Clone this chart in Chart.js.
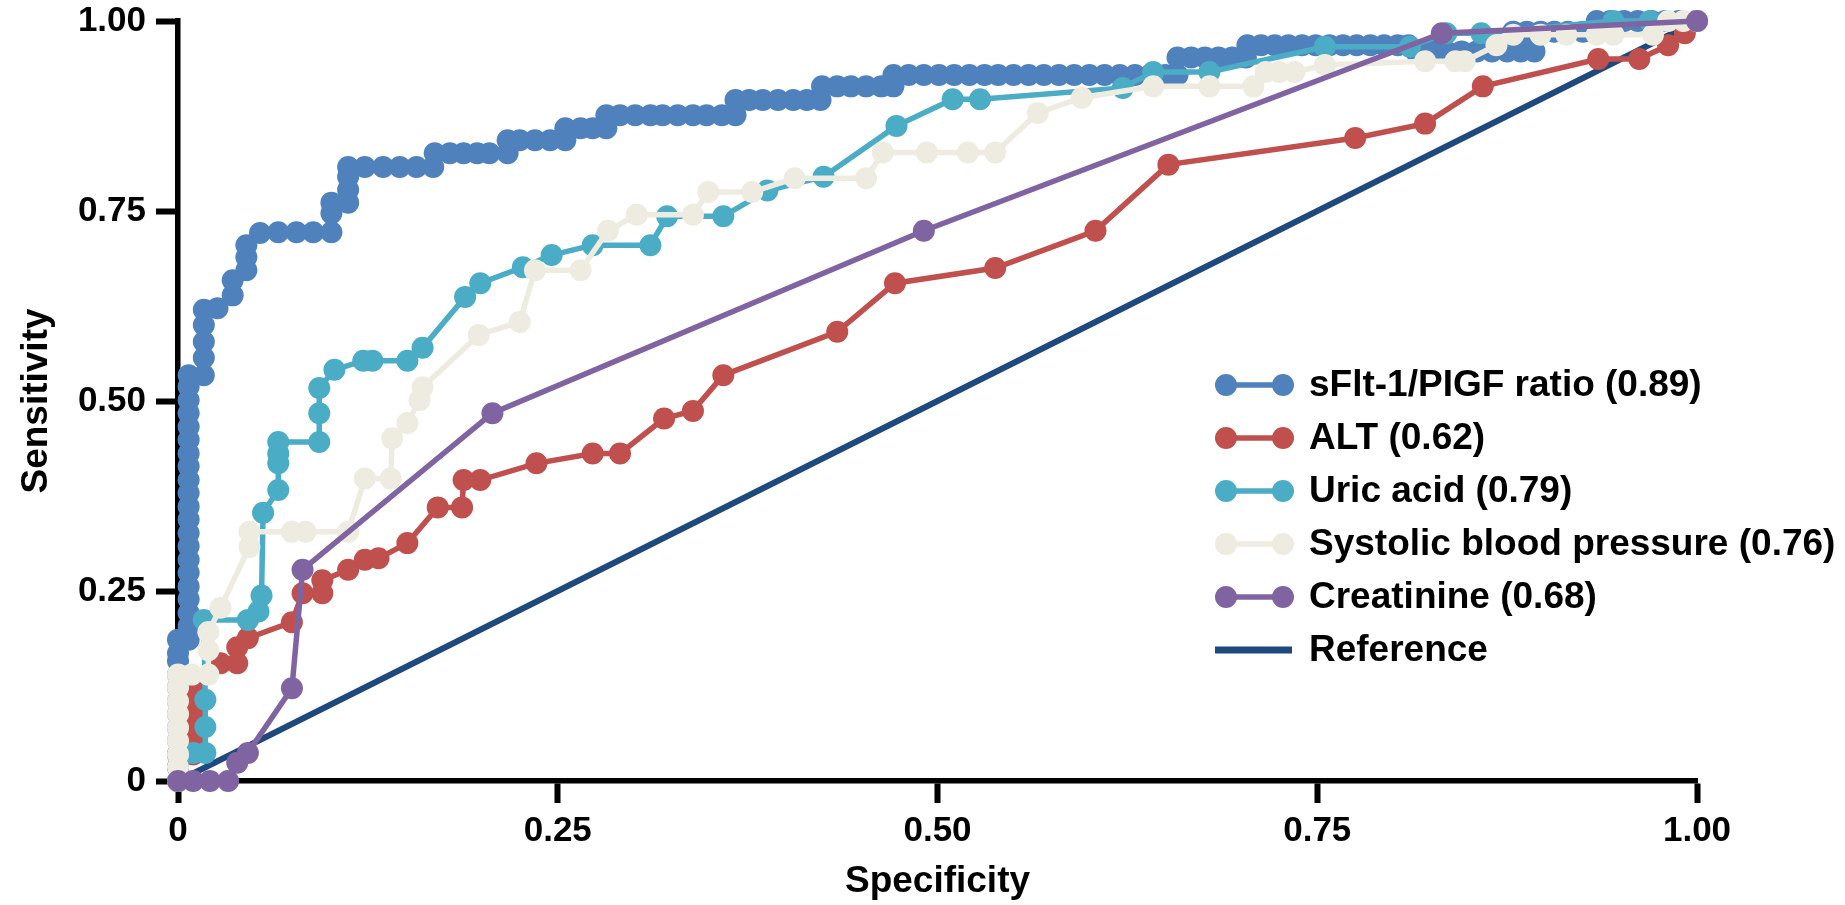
<!DOCTYPE html>
<html>
<head>
<meta charset="utf-8">
<script src="https://cdn.jsdelivr.net/npm/chart.js@4.4.1/dist/chart.umd.min.js"></script>
<style>
  html, body { margin: 0; padding: 0; background: #fff; }
  #wrap { position: relative; width: 1845px; height: 905px; }
</style>
</head>
<body>
<div id="wrap"><canvas id="roc"></canvas></div>
<script>
const FONT = "'Liberation Sans', Arial, Helvetica, sans-serif";

const tickValues = [0, 0.25, 0.5, 0.75, 1];
const tickLabels = ['0', '0.25', '0.50', '0.75', '1.00'];

const seriesNames = ['sFlt-1/PIGF ratio (0.89)', 'ALT (0.62)', 'Uric acid (0.79)', 'Systolic blood pressure (0.76)', 'Creatinine (0.68)', 'Reference'];
const seriesColors = ['#4F81BD', '#C0504D', '#4BACC6', '#EEECE1', '#8064A2', '#1F497D'];

// sFlt-1/PlGF ratio
const sfltSpec = [0, 0, 0, 0, 0, 0, 0, 0, 0, 0, 0, 0,
  0.007, 0.007, 0.007, 0.007, 0.007, 0.007, 0.007, 0.007, 0.007, 0.007, 0.007, 0.007, 0.007, 0.007, 0.007, 0.007, 0.007, 0.007, 0.007, 0.007, 0.007,
  0.017, 0.017, 0.017, 0.017, 0.017,
  0.026, 0.036, 0.036, 0.045, 0.045, 0.045, 0.054, 0.066, 0.078, 0.089, 0.101, 0.101, 0.101, 0.112, 0.112, 0.112, 0.112,
  0.123, 0.135, 0.146, 0.157, 0.168, 0.169, 0.179, 0.188, 0.197, 0.205, 0.217, 0.217, 0.225, 0.235, 0.245, 0.255,
  0.255, 0.265, 0.273, 0.282, 0.282, 0.291, 0.301, 0.311, 0.319, 0.329, 0.339, 0.348, 0.358, 0.367,
  0.367, 0.376, 0.385, 0.395, 0.405, 0.414, 0.423, 0.424, 0.434, 0.443, 0.453, 0.463, 0.471,
  0.471, 0.481, 0.491, 0.501, 0.511, 0.521, 0.531, 0.540, 0.550, 0.560, 0.570, 0.580, 0.590, 0.600, 0.610, 0.620, 0.630, 0.640, 0.650, 0.658,
  0.658, 0.667, 0.676, 0.685, 0.694, 0.703,
  0.704, 0.713, 0.722, 0.731, 0.740, 0.749, 0.758, 0.767, 0.776, 0.785, 0.794, 0.803, 0.810,
  0.815, 0.825, 0.835, 0.845, 0.855, 0.865, 0.875, 0.884, 0.893,
  0.879, 0.888, 0.897, 0.906, 0.915, 0.925, 0.934,
  0.934, 0.943, 0.952, 0.961, 0.970, 0.979, 0.988, 1];
const sfltSens = [0, 0.018, 0.035, 0.053, 0.070, 0.088, 0.105, 0.123, 0.140, 0.158, 0.168, 0.186,
  0.186, 0.204, 0.221, 0.239, 0.256, 0.274, 0.291, 0.309, 0.326, 0.344, 0.361, 0.379, 0.396, 0.414, 0.431, 0.449, 0.466, 0.484, 0.501, 0.519, 0.534,
  0.534, 0.557, 0.578, 0.600, 0.620,
  0.622, 0.639, 0.659, 0.672, 0.689, 0.705, 0.721, 0.722, 0.722, 0.722, 0.722, 0.747, 0.761, 0.761, 0.778, 0.795, 0.808,
  0.808, 0.808, 0.808, 0.808, 0.808, 0.826, 0.826, 0.826, 0.826, 0.826, 0.826, 0.843, 0.843, 0.843, 0.843, 0.843,
  0.859, 0.859, 0.859, 0.859, 0.876, 0.876, 0.876, 0.876, 0.876, 0.876, 0.876, 0.876, 0.876, 0.876,
  0.896, 0.896, 0.896, 0.896, 0.896, 0.896, 0.896, 0.914, 0.914, 0.914, 0.914, 0.914, 0.914,
  0.929, 0.929, 0.929, 0.929, 0.929, 0.929, 0.929, 0.929, 0.929, 0.929, 0.929, 0.929, 0.929, 0.929, 0.929, 0.929, 0.929, 0.929, 0.929, 0.929,
  0.952, 0.952, 0.952, 0.952, 0.952, 0.952,
  0.968, 0.968, 0.968, 0.968, 0.968, 0.968, 0.968, 0.968, 0.968, 0.968, 0.968, 0.968, 0.968,
  0.960, 0.960, 0.960, 0.960, 0.960, 0.960, 0.960, 0.960, 0.960,
  0.986, 0.986, 0.986, 0.986, 0.986, 0.986, 0.986,
  1, 1, 1, 1, 1, 1, 1, 1];

// ALT
const altSpec = [0, 0, 0, 0.010, 0.010, 0.010, 0.010, 0.010, 0.010, 0.028, 0.039, 0.039, 0.046, 0.075, 0.082, 0.095, 0.095,
  0.112, 0.123, 0.132, 0.151, 0.171, 0.187, 0.188, 0.199, 0.236, 0.273, 0.291, 0.320, 0.339, 0.359, 0.434,
  0.472, 0.538, 0.604, 0.652, 0.775, 0.821, 0.859, 0.935, 0.962, 0.981, 0.992, 1];
const altSens = [0, 0.018, 0.035, 0.035, 0.053, 0.070, 0.088, 0.105, 0.123, 0.155, 0.155, 0.176, 0.188, 0.209, 0.247, 0.247, 0.264,
  0.278, 0.291, 0.293, 0.313, 0.360, 0.360, 0.396, 0.396, 0.418, 0.431, 0.431, 0.477, 0.487, 0.534, 0.591,
  0.655, 0.675, 0.724, 0.811, 0.846, 0.865, 0.914, 0.950, 0.950, 0.968, 0.984, 1];

// Uric acid
const uricSpec = [0, 0, 0.010, 0.018, 0.018, 0.018, 0.017, 0.046, 0.053, 0.055, 0.056, 0.066, 0.066, 0.066, 0.066,
  0.093, 0.093, 0.093, 0.103, 0.122, 0.128, 0.151, 0.161, 0.189, 0.199, 0.227, 0.246, 0.273, 0.311, 0.322, 0.359,
  0.388, 0.425, 0.473, 0.510, 0.528, 0.622, 0.642, 0.679, 0.755, 0.811, 0.835, 0.858, 0.945, 0.969, 1];
const uricSens = [0, 0.018, 0.037, 0.037, 0.071, 0.107, 0.212, 0.212, 0.223, 0.244, 0.353, 0.383, 0.418, 0.431, 0.446,
  0.446, 0.484, 0.517, 0.541, 0.553, 0.553, 0.553, 0.570, 0.637, 0.655, 0.676, 0.692, 0.705, 0.705, 0.743, 0.743,
  0.777, 0.795, 0.862, 0.897, 0.897, 0.912, 0.933, 0.933, 0.966, 0.966, 0.984, 0.984, 1, 1, 1];

// Systolic blood pressure
const sbpSpec = [0, 0, 0, 0, 0, 0, 0, 0, 0, 0.009, 0.020, 0.020, 0.020, 0.028, 0.047, 0.047, 0.075, 0.084, 0.112,
  0.123, 0.140, 0.141, 0.151, 0.159, 0.161, 0.198, 0.225, 0.235, 0.265, 0.283, 0.302, 0.339, 0.349, 0.378,
  0.406, 0.453, 0.464, 0.493, 0.520, 0.538, 0.566, 0.595, 0.642, 0.679, 0.708, 0.716, 0.725, 0.735, 0.755,
  0.821, 0.841, 0.847, 0.868, 0.879, 0.897, 0.914, 0.934, 0.945, 0.971, 0.981, 0.991, 1];
const sbpSens = [0, 0.018, 0.035, 0.053, 0.070, 0.088, 0.105, 0.123, 0.140, 0.140, 0.140, 0.172, 0.196, 0.228, 0.308, 0.328, 0.328, 0.328, 0.328,
  0.398, 0.398, 0.451, 0.471, 0.501, 0.518, 0.587, 0.604, 0.672, 0.672, 0.724, 0.745, 0.745, 0.775, 0.775,
  0.793, 0.793, 0.827, 0.827, 0.827, 0.827, 0.879, 0.899, 0.914, 0.914, 0.914, 0.933, 0.933, 0.933, 0.942,
  0.947, 0.947, 0.947, 0.968, 0.982, 0.982, 0.982, 0.982, 0.982, 0.982, 1, 1, 1];

// Creatinine
const creaSpec = [0, 0.010, 0.021, 0.033, 0.039, 0.046, 0.075, 0.082, 0.207, 0.491, 0.832, 1];
const creaSens = [0, 0, 0, 0, 0.024, 0.037, 0.122, 0.278, 0.484, 0.724, 0.984, 1];

// Reference diagonal
const refSpec = [0, 1];
const refSens = [0, 1];

const pts = (xs, ys) => xs.map((x, i) => ({ x, y: ys[i] }));

function rocSet(i, xs, ys, order) {
  return {
    label: seriesNames[i], data: pts(xs, ys), showLine: true,
    borderColor: seriesColors[i], backgroundColor: seriesColors[i],
    borderWidth: 5.5, pointRadius: 11, pointHoverRadius: 11, pointBorderWidth: 0,
    tension: 0, clip: false, order
  };
}

const legendBox = {
  id: 'legendBox',
  afterDatasetsDraw(chart, args, o) {
    const { ctx } = chart;
    ctx.save();
    ctx.font = `bold ${o.size}px ${FONT}`;
    ctx.textBaseline = 'middle';
    seriesNames.forEach((name, i) => {
      const y = o.top + i * o.step;
      const c = seriesColors[i];
      const marker = i < seriesNames.length - 1;
      ctx.strokeStyle = c;
      ctx.lineWidth = marker ? 5.5 : 7;
      ctx.beginPath();
      ctx.moveTo(marker ? o.dot0 : o.line0, y);
      ctx.lineTo(marker ? o.dot1 : o.line1, y);
      ctx.stroke();
      if (marker) {
        ctx.fillStyle = c;
        [o.dot0, o.dot1].forEach(x => { ctx.beginPath(); ctx.arc(x, y, 11, 0, Math.PI * 2); ctx.fill(); });
      }
      ctx.fillStyle = '#000';
      ctx.fillText(name, o.textX, y + 1);
    });
    ctx.restore();
  }
};

const tickFont = { family: FONT, size: 35, weight: 'bold' };
const titleFont = { family: FONT, size: 37, weight: 'bold' };
const label = v => tickLabels[tickValues.indexOf(v)] ?? '';

new Chart(document.getElementById('roc'), {
  type: 'scatter',
  data: {
    datasets: [
      rocSet(0, sfltSpec, sfltSens, 4),
      rocSet(1, altSpec, altSens, 3),
      rocSet(2, uricSpec, uricSens, 2),
      rocSet(3, sbpSpec, sbpSens, 1),
      rocSet(4, creaSpec, creaSens, 0),
      { ...rocSet(5, refSpec, refSens, 5), pointRadius: 0, pointHoverRadius: 0, borderWidth: 6 }
    ]
  },
  options: {
    responsive: true, maintainAspectRatio: false, animation: false, devicePixelRatio: 1,
    layout: { padding: { top: 21, right: 148, left: 0, bottom: 0 } },
    scales: {
      x: {
        type: 'linear', min: 0, max: 1,
        afterBuildTicks: s => { s.ticks = tickValues.map(value => ({ value })); },
        afterFit: s => { s.height = 124; s.paddingLeft = 0; s.paddingRight = 0; },
        ticks: { callback: label, color: '#000', font: tickFont, padding: 7, maxRotation: 0, autoSkip: false },
        grid: { drawOnChartArea: false, drawTicks: true, tickLength: 22, tickWidth: 6, tickColor: '#000' },
        border: { display: true, color: '#000', width: 5.5 },
        title: { display: true, text: 'Specificity', color: '#000', font: titleFont, padding: { top: 0, bottom: 1 } }
      },
      y: {
        type: 'linear', min: 0, max: 1,
        afterBuildTicks: s => { s.ticks = tickValues.map(value => ({ value })); },
        afterFit: s => { s.width = 178; s.paddingTop = 0; s.paddingBottom = 0; },
        ticks: { callback: label, color: '#000', font: tickFont, padding: 10, autoSkip: false },
        grid: { drawOnChartArea: false, drawTicks: true, tickLength: 22, tickWidth: 6, tickColor: '#000' },
        border: { display: true, color: '#000', width: 5.5 },
        title: { display: true, text: 'Sensitivity', color: '#000', font: titleFont, padding: { top: 15, bottom: 0 } }
      }
    },
    plugins: {
      legend: { display: false },
      tooltip: { enabled: false },
      legendBox: { size: 37, top: 385, step: 53, dot0: 1226, dot1: 1283, line0: 1215, line1: 1292, textX: 1309 }
    }
  },
  plugins: [legendBox]
});
</script>
</body>
</html>
